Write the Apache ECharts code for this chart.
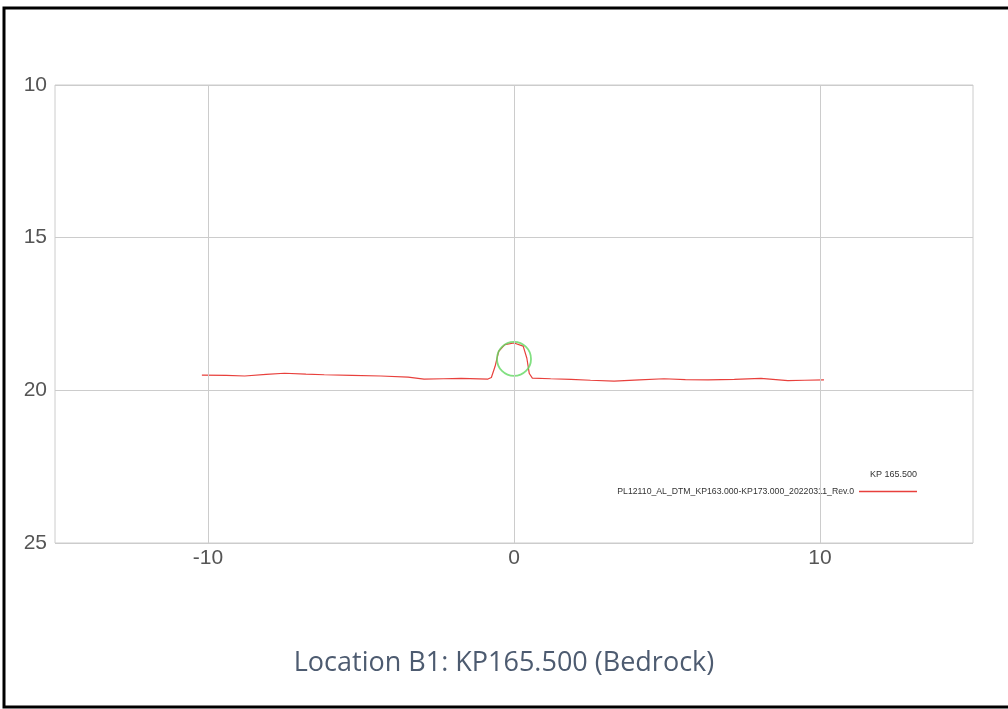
<!DOCTYPE html>
<html><head><meta charset="utf-8">
<script src="https://cdn.jsdelivr.net/npm/echarts@6/dist/echarts.min.js"></script>
<style>html,body{margin:0;padding:0;background:#fff}#c{width:1008px;height:709px}</style>
</head><body><div id="c"></div>
<script>
const seriesName = 'PL12110_AL_DTM_KP163.000-KP173.000_20220311_Rev.0';
const kpLabel = 'KP 165.500';
const caption = 'Location B1: KP165.500 (Bedrock)';
const profileX = [-10.2, -9.4, -8.8, -8.1, -7.5, -6.8, -6.2, -5.3, -4.35, -3.46, -2.94, -2.3, -1.73, -0.85, -0.74, -0.62, -0.5, -0.3, 0, 0.3, 0.42, 0.5, 0.6, 1.2, 1.86, 2.5, 3.27, 4.1, 4.9, 5.6, 6.34, 7.2, 8.07, 8.95, 9.5, 10.13];
const profileY = [19.50, 19.51, 19.53, 19.48, 19.44, 19.47, 19.49, 19.51, 19.53, 19.57, 19.63, 19.62, 19.61, 19.63, 19.58, 19.22, 18.72, 18.50, 18.45, 18.55, 18.95, 19.45, 19.60, 19.62, 19.64, 19.67, 19.70, 19.66, 19.62, 19.65, 19.66, 19.64, 19.61, 19.68, 19.67, 19.66];
const pipeCentre = [0, 18.97];
const xGridValues = [-10, 0, 10];

const profile = profileX.map((x, i) => [x, profileY[i]]);
const chart = echarts.init(document.getElementById('c'));
chart.setOption({
  animation: false,
  backgroundColor: '#fff',
  grid: { left: 55, top: 85, right: 35, bottom: 166, show: true, borderColor: '#cccccc', borderWidth: 1 },
  xAxis: {
    type: 'value', min: -15, max: 15, interval: 5,
    axisLine: { show: false }, axisTick: { show: false }, splitLine: { show: false },
    axisLabel: { color: '#555', fontSize: 21, fontFamily: 'Liberation Sans', margin: 5,
      formatter: v => (xGridValues.indexOf(v) >= 0 ? String(v) : '') }
  },
  yAxis: {
    type: 'value', inverse: true, min: 10, max: 25, interval: 5,
    axisLine: { show: false }, axisTick: { show: false },
    splitLine: { lineStyle: { color: '#cccccc', width: 1 } },
    axisLabel: { color: '#555', fontSize: 21, fontFamily: 'Liberation Sans', margin: 8 }
  },
  legend: {
    data: [seriesName], right: 91, top: 487, align: 'right', padding: 0,
    icon: 'rect', itemWidth: 58, itemHeight: 1.5, itemGap: 4,
    textStyle: { fontSize: 8.7, color: '#333', fontFamily: 'Liberation Sans' }
  },
  graphic: [
    { type: 'text', right: 91, top: 470, style: { text: kpLabel, fontSize: 9, fill: '#333', fontFamily: 'Liberation Sans' } },
    { type: 'text', left: 'center', top: 650, style: { text: caption, fontSize: 27, fill: '#4d5b70', fontFamily: 'Open Sans' } },
    { type: 'rect', shape: { x: 4, y: 8, width: 1010, height: 699 }, style: { fill: 'none', stroke: '#000', lineWidth: 3 }, silent: true }
  ],
  series: [
    {
      name: 'grid', type: 'scatter', data: [], silent: true,
      markLine: { silent: true, symbol: ['none', 'none'], label: { show: false },
        lineStyle: { color: '#cccccc', width: 1, type: 'solid' },
        data: xGridValues.map(v => ({ xAxis: v })) }
    },
    {
      name: seriesName, type: 'line', data: profile, showSymbol: false,
      lineStyle: { color: '#e8403c', width: 1.2 }, itemStyle: { color: '#e8403c' }, z: 3
    },
    {
      name: 'pipe', type: 'scatter', data: [pipeCentre], symbol: 'circle', symbolSize: 34, silent: true,
      itemStyle: { color: 'rgba(0,0,0,0)', borderColor: '#62d862', borderWidth: 1.8 }, z: 4
    }
  ]
});
</script></body></html>
